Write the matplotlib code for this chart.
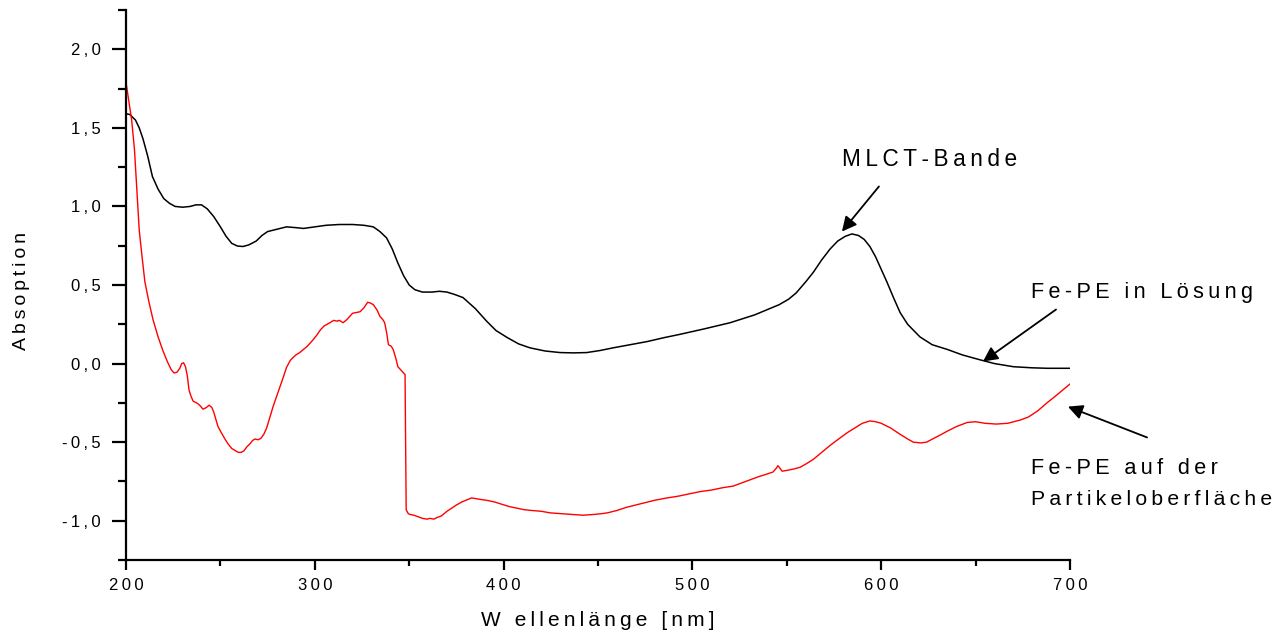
import matplotlib
matplotlib.use("Agg")
import matplotlib.pyplot as plt
from matplotlib.ticker import MultipleLocator, FuncFormatter

plt.rcParams['font.family'] = ['Liberation Sans', 'DejaVu Sans']

# Fe-PE in solution (black)
wl_solution = [200, 202, 205, 207, 209, 211.5, 214, 217, 220, 223, 226, 230, 234, 237,
               240, 243, 246.5, 250, 253, 256, 259, 262, 265, 269, 272, 275, 280, 285,
               290, 294, 300, 306, 313, 320, 326, 331, 334.5, 338, 341, 344, 347, 350,
               353, 357, 362, 366, 370, 374, 378.5, 385, 391, 396, 402, 408, 414, 422,
               430, 437, 444, 451, 458, 467, 476, 485, 493, 506, 520, 533, 546, 551,
               555, 560, 564, 568.5, 573, 577, 581, 584.5, 588, 591, 594, 597, 600,
               603, 606.5, 610, 614, 620.5, 627, 635, 643, 652, 660, 670, 680, 688, 700]
abs_solution = [1.59, 1.585, 1.55, 1.50, 1.43, 1.32, 1.19, 1.11, 1.05, 1.02, 1.0, 0.995,
                1.0, 1.01, 1.01, 0.985, 0.935, 0.87, 0.81, 0.765, 0.748, 0.745, 0.755,
                0.78, 0.815, 0.84, 0.855, 0.87, 0.865, 0.86, 0.87, 0.88, 0.885, 0.885,
                0.88, 0.87, 0.84, 0.80, 0.73, 0.64, 0.56, 0.50, 0.47, 0.455, 0.455,
                0.46, 0.455, 0.44, 0.42, 0.35, 0.27, 0.21, 0.165, 0.125, 0.10, 0.08,
                0.07, 0.068, 0.07, 0.083, 0.10, 0.12, 0.14, 0.165, 0.185, 0.22, 0.26,
                0.31, 0.375, 0.41, 0.45, 0.52, 0.58, 0.66, 0.73, 0.78, 0.81, 0.825,
                0.815, 0.79, 0.745, 0.68, 0.60, 0.52, 0.42, 0.325, 0.25, 0.17, 0.12,
                0.09, 0.055, 0.025, 0.0, -0.02, -0.027, -0.03, -0.03]

# Fe-PE on the particle surface (red)
wl_surface = [200, 201.5, 203, 204.5, 205.8, 207, 208.5, 210, 212, 214.3, 217, 219.6,
              222, 224, 225.5, 227, 228.5, 229.5, 230.5, 231.5, 232.5, 233.4, 234.5,
              235.6, 237.4, 239, 240.8, 242.5, 244, 245.5, 246.5, 248.7, 250.5, 252.4,
              254, 256, 258, 259.5, 261, 262.5, 264, 265.7, 267, 268.3, 270, 271.5,
              273, 274.5, 276, 278, 280, 281.6, 283.5, 285, 287, 288.6, 290, 292, 294,
              296, 299, 301, 303, 305, 308, 310, 311.8, 313, 315, 317, 318.5, 320, 322,
              324, 326, 328, 329.5, 331, 333, 334.5, 336, 337, 338, 339, 340.5, 341.5,
              343, 344, 345.5, 347, 347.8, 348.4, 349.5, 350.4, 352.5, 354.7, 357,
              359.4, 361, 363, 364.7, 367, 370, 372.5, 375, 378, 380, 383, 385.5, 388,
              391, 395, 399, 403, 407, 411, 415, 420, 424.6, 430, 436, 442, 448, 452,
              455, 460, 465, 470, 475, 480, 486.5, 492, 498, 504, 510, 516, 521.5, 526,
              530.5, 535, 539, 542.7, 544.5, 545.3, 546.3, 547.5, 550, 554, 557, 560,
              564, 568, 573, 578, 582, 586, 590, 594, 597, 600, 605, 610, 614, 617, 621,
              624, 628, 632, 635, 640, 645.5, 650, 655, 661, 667, 673.5, 678, 683,
              687.8, 692, 696, 700]
abs_surface = [1.79, 1.67, 1.55, 1.36, 1.09, 0.85, 0.68, 0.52, 0.40, 0.28, 0.17, 0.08,
               0.01, -0.04, -0.06, -0.055, -0.03, 0.0, 0.005, -0.02, -0.08, -0.17, -0.21,
               -0.24, -0.25, -0.265, -0.29, -0.28, -0.265, -0.28, -0.31, -0.40, -0.44,
               -0.48, -0.51, -0.54, -0.555, -0.565, -0.565, -0.555, -0.53, -0.51, -0.49,
               -0.48, -0.485, -0.475, -0.45, -0.41, -0.35, -0.27, -0.20, -0.146, -0.08,
               -0.025, 0.02, 0.04, 0.055, 0.07, 0.09, 0.11, 0.15, 0.18, 0.215, 0.24,
               0.26, 0.275, 0.27, 0.275, 0.26, 0.28, 0.30, 0.32, 0.325, 0.33, 0.355,
               0.39, 0.385, 0.375, 0.34, 0.30, 0.28, 0.26, 0.20, 0.12, 0.11, 0.09, 0.03,
               -0.02, -0.04, -0.06, -0.07, -0.93, -0.955, -0.96, -0.965, -0.975, -0.985,
               -0.99, -0.985, -0.99, -0.98, -0.97, -0.94, -0.92, -0.90, -0.88, -0.87,
               -0.855, -0.86, -0.865, -0.87, -0.88, -0.895, -0.91, -0.92, -0.93, -0.935,
               -0.94, -0.95, -0.955, -0.96, -0.965, -0.96, -0.955, -0.95, -0.935, -0.915,
               -0.90, -0.885, -0.87, -0.855, -0.845, -0.83, -0.815, -0.805, -0.79, -0.78,
               -0.76, -0.74, -0.72, -0.705, -0.69, -0.665, -0.65, -0.665, -0.685, -0.68,
               -0.67, -0.66, -0.64, -0.61, -0.57, -0.52, -0.475, -0.44, -0.41, -0.38,
               -0.365, -0.37, -0.38, -0.41, -0.45, -0.48, -0.50, -0.505, -0.50, -0.475,
               -0.45, -0.43, -0.40, -0.375, -0.37, -0.38, -0.385, -0.38, -0.36, -0.34,
               -0.30, -0.25, -0.21, -0.17, -0.13]

TS = '\u2009'


def spaced(s):
    return TS.join(s)


def spaced_words(s):
    return (TS + " " + TS).join(spaced(w) for w in s.split(" "))


fig = plt.figure(figsize=(12.84, 6.32), dpi=100)
ax = fig.add_axes([126 / 1284, 1 - 560 / 632, (1070 - 126) / 1284, 550 / 632])

ax.plot(wl_solution, abs_solution, color='black', lw=1.1)
ax.plot(wl_surface, abs_surface, color='red', lw=1.0)

ax.set_xlim(200, 700)
ax.set_ylim(-1.25, 2.25)

for side in ('top', 'right'):
    ax.spines[side].set_visible(False)
for side in ('left', 'bottom'):
    ax.spines[side].set_linewidth(1.6)

ax.xaxis.set_major_locator(MultipleLocator(100))
ax.xaxis.set_minor_locator(MultipleLocator(50))
ax.yaxis.set_major_locator(MultipleLocator(0.5))
ax.yaxis.set_minor_locator(MultipleLocator(0.25))

ax.xaxis.set_major_formatter(FuncFormatter(lambda v, p: spaced(f"{v:.0f}")))
ax.yaxis.set_major_formatter(
    FuncFormatter(lambda v, p: spaced(f"{v:.1f}".replace('.', ',').replace('-0,0', '0,0'))))

ax.tick_params(axis='y', which='major', direction='out', length=10, width=1.6,
               labelsize=12, pad=8)
ax.tick_params(axis='y', which='minor', direction='out', length=6, width=1.6)
ax.tick_params(axis='x', which='major', direction='out', length=7, width=1.6,
               labelsize=12, pad=6)
ax.tick_params(axis='x', which='minor', direction='out', length=4, width=1.6)

ax.set_xlabel(spaced("W ellenlänge [nm]"), fontsize=15, labelpad=13)
ax.set_ylabel(spaced("Absoption"), fontsize=14)
ax.yaxis.set_label_coords(-0.102, 0.489)

arrow = dict(arrowstyle='-|>', color='black', lw=1.3, mutation_scale=22,
             shrinkA=0, shrinkB=0)

ax.annotate('', xy=(579.2, 0.84), xytext=(598.8, 1.127), arrowprops=arrow,
            annotation_clip=False)
ax.annotate('', xy=(653.9, 0.013), xytext=(692.6, 0.344), arrowprops=arrow,
            annotation_clip=False)
ax.annotate('', xy=(698.9, -0.274), xytext=(740.8, -0.47), arrowprops=arrow,
            annotation_clip=False)

ax.text(579.2, 1.255, spaced("MLCT-Bande"), fontsize=16.3, va='baseline', ha='left',
        clip_on=False)
ax.text(679.3, 0.42, spaced_words("Fe-PE in Lösung"), fontsize=15.6, va='baseline',
        ha='left', clip_on=False)
ax.text(679.3, -0.70, spaced_words("Fe-PE auf der"), fontsize=15.6, va='baseline',
        ha='left', clip_on=False)
ax.text(679.3, -0.898, spaced("Partikeloberfläche"), fontsize=15.2, va='baseline',
        ha='left', clip_on=False)

fig.savefig('out.png', dpi=100)
